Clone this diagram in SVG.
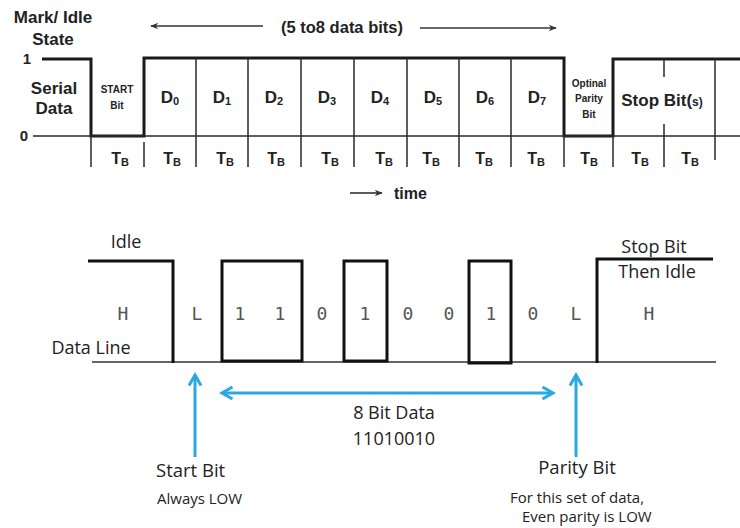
<svg xmlns="http://www.w3.org/2000/svg" width="740" height="528" viewBox="0 0 740 528">
  <style>
    .hd { font-family: "Liberation Sans", Arial, sans-serif; font-weight: bold; fill: #222; }
    .wave { fill: none; stroke: #1a1a1a; stroke-width: 3; stroke-linejoin: miter; }
    .thin { fill: none; stroke: #2a2a2a; stroke-width: 1.5; }
    .box { fill: none; stroke: #111; stroke-width: 3; }
    .base { fill: none; stroke: #333; stroke-width: 1.5; }
    .mono { font-family: "DejaVu Sans Mono", "Liberation Mono", monospace; font-size: 18px; fill: #555; text-anchor: middle; }
    .lbl { font-family: "Open Sans", "Noto Sans", sans-serif; fill: #222; }
    .blue { fill: none; stroke: #2aa9e0; stroke-width: 3; }
  </style>
  <defs>
    <marker id="headK" viewBox="0 0 10 10" refX="9" refY="5" markerWidth="10" markerHeight="8" markerUnits="userSpaceOnUse" orient="auto-start-reverse">
      <path d="M0,1 L10,5 L0,9 L3,5 Z" fill="#333"/>
    </marker>
    <marker id="headB" viewBox="0 0 10 10" refX="8" refY="5" markerWidth="5" markerHeight="5" orient="auto-start-reverse">
      <path d="M1,1 L8,5 L1,9" fill="none" stroke="#2aa9e0" stroke-width="2"/>
    </marker>
  </defs>

  <!-- ===== UART frame timing (top) ===== -->
  <g id="frame-labels">
    <text class="hd" x="53" y="23" font-size="17" text-anchor="middle">Mark/ Idle</text>
    <text class="hd" x="53" y="45" font-size="17" text-anchor="middle">State</text>
    <text class="hd" x="27" y="64" font-size="15" text-anchor="middle">1</text>
    <text class="hd" x="24" y="141" font-size="15" text-anchor="middle">0</text>
    <text class="hd" x="54" y="94" font-size="17" text-anchor="middle">Serial</text>
    <text class="hd" x="54" y="114" font-size="17" text-anchor="middle">Data</text>
    <text class="hd" x="342" y="33" font-size="16.5" text-anchor="middle">(5 to8 data bits)</text>
  </g>

  <g id="frame-waveform">
    <!-- signal level -->
    <polyline class="wave" points="42,59 91,59 91,136 144,136 144,58 564,58 564,136 613,136 613,59 740,59"/>
    <!-- zero baseline -->
    <line class="thin" x1="33" y1="136" x2="740" y2="136"/>
    <!-- bit-cell dividers -->
    <path class="thin" d="M91,136 V167 M144,142 V167
      M196,58 V167 M248,58 V167 M301,58 V167 M354,58 V167
      M407,58 V167 M459,58 V167 M511,58 V167
      M564,136 V167 M613,136 V167
      M664,58 V77 M664,124 V167 M715,58 V160"/>
  </g>

  <g id="frame-cells" class="hd" text-anchor="middle">
    <text x="117" y="93" font-size="10">START</text>
    <text x="117" y="109" font-size="10">Bit</text>
    <text x="170" y="103" font-size="17">D<tspan font-size="11" dy="2">0</tspan></text>
    <text x="222" y="103" font-size="17">D<tspan font-size="11" dy="2">1</tspan></text>
    <text x="274" y="103" font-size="17">D<tspan font-size="11" dy="2">2</tspan></text>
    <text x="327" y="103" font-size="17">D<tspan font-size="11" dy="2">3</tspan></text>
    <text x="380" y="103" font-size="17">D<tspan font-size="11" dy="2">4</tspan></text>
    <text x="433" y="103" font-size="17">D<tspan font-size="11" dy="2">5</tspan></text>
    <text x="485" y="103" font-size="17">D<tspan font-size="11" dy="2">6</tspan></text>
    <text x="537" y="103" font-size="17">D<tspan font-size="11" dy="2">7</tspan></text>
    <text x="589" y="87" font-size="10">Optinal</text>
    <text x="589" y="102" font-size="10">Parity</text>
    <text x="589" y="118" font-size="10">Bit</text>
    <text x="662" y="106" font-size="17">Stop Bit(<tspan font-size="12">s)</tspan></text>
  </g>

  <g id="frame-periods" class="hd" font-size="16" text-anchor="middle">
    <text x="120" y="164">T<tspan font-size="11" dy="2">B</tspan></text>
    <text x="172" y="164">T<tspan font-size="11" dy="2">B</tspan></text>
    <text x="225" y="164">T<tspan font-size="11" dy="2">B</tspan></text>
    <text x="276" y="164">T<tspan font-size="11" dy="2">B</tspan></text>
    <text x="330" y="164">T<tspan font-size="11" dy="2">B</tspan></text>
    <text x="384" y="164">T<tspan font-size="11" dy="2">B</tspan></text>
    <text x="431" y="164">T<tspan font-size="11" dy="2">B</tspan></text>
    <text x="484" y="164">T<tspan font-size="11" dy="2">B</tspan></text>
    <text x="536" y="164">T<tspan font-size="11" dy="2">B</tspan></text>
    <text x="589" y="164">T<tspan font-size="11" dy="2">B</tspan></text>
    <text x="640" y="164">T<tspan font-size="11" dy="2">B</tspan></text>
    <text x="690" y="164">T<tspan font-size="11" dy="2">B</tspan></text>
  </g>

  <g id="frame-arrows">
    <line x1="263" y1="26" x2="151" y2="26" stroke="#333" stroke-width="1.6" marker-end="url(#headK)"/>
    <line x1="420" y1="28" x2="556" y2="28" stroke="#333" stroke-width="1.6" marker-end="url(#headK)"/>
    <line x1="350" y1="193" x2="382" y2="193" stroke="#333" stroke-width="1.6" marker-end="url(#headK)"/>
    <text class="hd" x="394" y="199" font-size="16">time</text>
  </g>

  <!-- ===== Example byte on the data line (bottom) ===== -->
  <g id="line-labels" class="lbl">
    <text x="126" y="248" font-size="18" text-anchor="middle">Idle</text>
    <text x="91" y="354" font-size="18" text-anchor="middle">Data Line</text>
    <text x="654" y="253" font-size="18" text-anchor="middle">Stop Bit</text>
    <text x="657" y="278" font-size="18" text-anchor="middle">Then Idle</text>
  </g>

  <g id="line-waveform">
    <line class="base" x1="92" y1="362" x2="716" y2="362"/>
    <polyline class="box" points="88,261 173,261 173,363"/>
    <rect class="box" x="222" y="261" width="80" height="100"/>
    <rect class="box" x="344" y="261" width="43" height="100"/>
    <rect class="box" x="469" y="261" width="42" height="102"/>
    <polyline class="box" points="597,363 597,259 713,259"/>
  </g>

  <g id="line-bits">
    <text class="mono" x="123" y="320">H</text>
    <text class="mono" x="197" y="320">L</text>
    <text class="mono" x="240" y="320">1</text>
    <text class="mono" x="280" y="320">1</text>
    <text class="mono" x="322" y="320">0</text>
    <text class="mono" x="365" y="320">1</text>
    <text class="mono" x="408" y="320">0</text>
    <text class="mono" x="449" y="320">0</text>
    <text class="mono" x="491" y="320">1</text>
    <text class="mono" x="533" y="320">0</text>
    <text class="mono" x="576" y="320">L</text>
    <text class="mono" x="649" y="320">H</text>
  </g>

  <g id="connectors">
    <line class="blue" x1="195" y1="457" x2="195" y2="375" marker-end="url(#headB)"/>
    <line class="blue" x1="576" y1="457" x2="576" y2="375" marker-end="url(#headB)"/>
    <line class="blue" x1="222" y1="393" x2="553" y2="393" marker-start="url(#headB)" marker-end="url(#headB)"/>
  </g>

  <g id="start-note" class="lbl">
    <text x="156" y="477" font-size="18.5">Start Bit</text>
    <text x="157" y="504" font-size="15">Always LOW</text>
  </g>

  <g id="data-note" class="lbl" text-anchor="middle">
    <text x="394" y="419" font-size="18">8 Bit Data</text>
    <text x="394" y="445" font-size="18">11010010</text>
  </g>

  <g id="parity-note" class="lbl">
    <text x="577" y="474" font-size="18.5" text-anchor="middle">Parity Bit</text>
    <text x="510" y="503" font-size="15">For this set of data,</text>
    <text x="522" y="522" font-size="15">Even parity is LOW</text>
  </g>
</svg>
